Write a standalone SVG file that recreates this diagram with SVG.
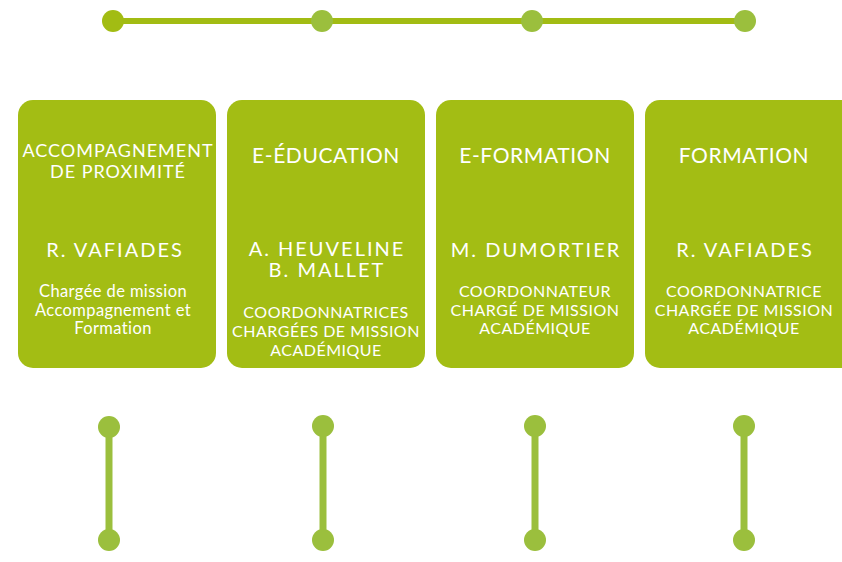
<svg xmlns="http://www.w3.org/2000/svg" width="842" height="562" viewBox="0 0 842 562">
<style>
.box{fill:#A3BD14}
.t{fill:#FFFFFF;font-family:Lato,"Open Sans",sans-serif;text-anchor:middle}
.h{font-size:21px;letter-spacing:0.6px}
.h2{font-size:18px;letter-spacing:1px}
.n{font-size:20px;letter-spacing:2px}
.s{font-size:16.5px;letter-spacing:0.4px}
.c{font-size:16px;letter-spacing:0.5px}
.dot{fill:#9BBF3D}
.vl{stroke:#9BBF3D;stroke-width:7}
</style>
<g id="connectors">
<line x1="113" y1="21" x2="745" y2="21" stroke="#A2BC13" stroke-width="6"/>
<circle cx="113" cy="21" r="11" fill="#A2BC13"/>
<circle class="dot" cx="322" cy="21" r="11"/>
<circle class="dot" cx="532" cy="21" r="11"/>
<circle class="dot" cx="745" cy="21" r="11"/>
<line class="vl" x1="109" y1="427" x2="109" y2="540"/>
<circle class="dot" cx="109" cy="427" r="11"/>
<circle class="dot" cx="109" cy="540" r="11"/>
<line class="vl" x1="323" y1="426" x2="323" y2="540"/>
<circle class="dot" cx="323" cy="426" r="11"/>
<circle class="dot" cx="323" cy="540" r="11"/>
<line class="vl" x1="535" y1="426" x2="535" y2="540"/>
<circle class="dot" cx="535" cy="426" r="11"/>
<circle class="dot" cx="535" cy="540" r="11"/>
<line class="vl" x1="744" y1="426" x2="744" y2="540"/>
<circle class="dot" cx="744" cy="426" r="11"/>
<circle class="dot" cx="744" cy="540" r="11"/>
</g>
<g id="box1">
<rect class="box" x="18" y="100" width="198" height="268" rx="15"/>
<text class="t h2" x="118" y="157">ACCOMPAGNEMENT</text>
<text class="t h2" x="118" y="178">DE PROXIMITÉ</text>
<text class="t n" x="115" y="257">R. VAFIADES</text>
<text class="t s" x="113" y="297">Chargée de mission</text>
<text class="t s" x="113" y="316">Accompagnement et</text>
<text class="t s" x="113" y="334">Formation</text>
</g>
<g id="box2">
<rect class="box" x="227" y="100" width="198" height="268" rx="15"/>
<text class="t h" x="326" y="163">E-ÉDUCATION</text>
<text class="t n" x="327" y="256">A. HEUVELINE</text>
<text class="t n" x="327" y="277">B. MALLET</text>
<text class="t c" x="326" y="318">COORDONNATRICES</text>
<text class="t c" x="326" y="337">CHARGÉES DE MISSION</text>
<text class="t c" x="326" y="356">ACADÉMIQUE</text>
</g>
<g id="box3">
<rect class="box" x="436" y="100" width="198" height="268" rx="15"/>
<text class="t h" x="535" y="163">E-FORMATION</text>
<text class="t n" x="536" y="257">M. DUMORTIER</text>
<text class="t c" x="535" y="297">COORDONNATEUR</text>
<text class="t c" x="535" y="316">CHARGÉ DE MISSION</text>
<text class="t c" x="535" y="334">ACADÉMIQUE</text>
</g>
<g id="box4">
<rect class="box" x="645" y="100" width="212" height="268" rx="15"/>
<text class="t h" x="744" y="163">FORMATION</text>
<text class="t n" x="745" y="257">R. VAFIADES</text>
<text class="t c" x="744" y="297">COORDONNATRICE</text>
<text class="t c" x="744" y="316">CHARGÉE DE MISSION</text>
<text class="t c" x="744" y="334">ACADÉMIQUE</text>
</g>
</svg>
